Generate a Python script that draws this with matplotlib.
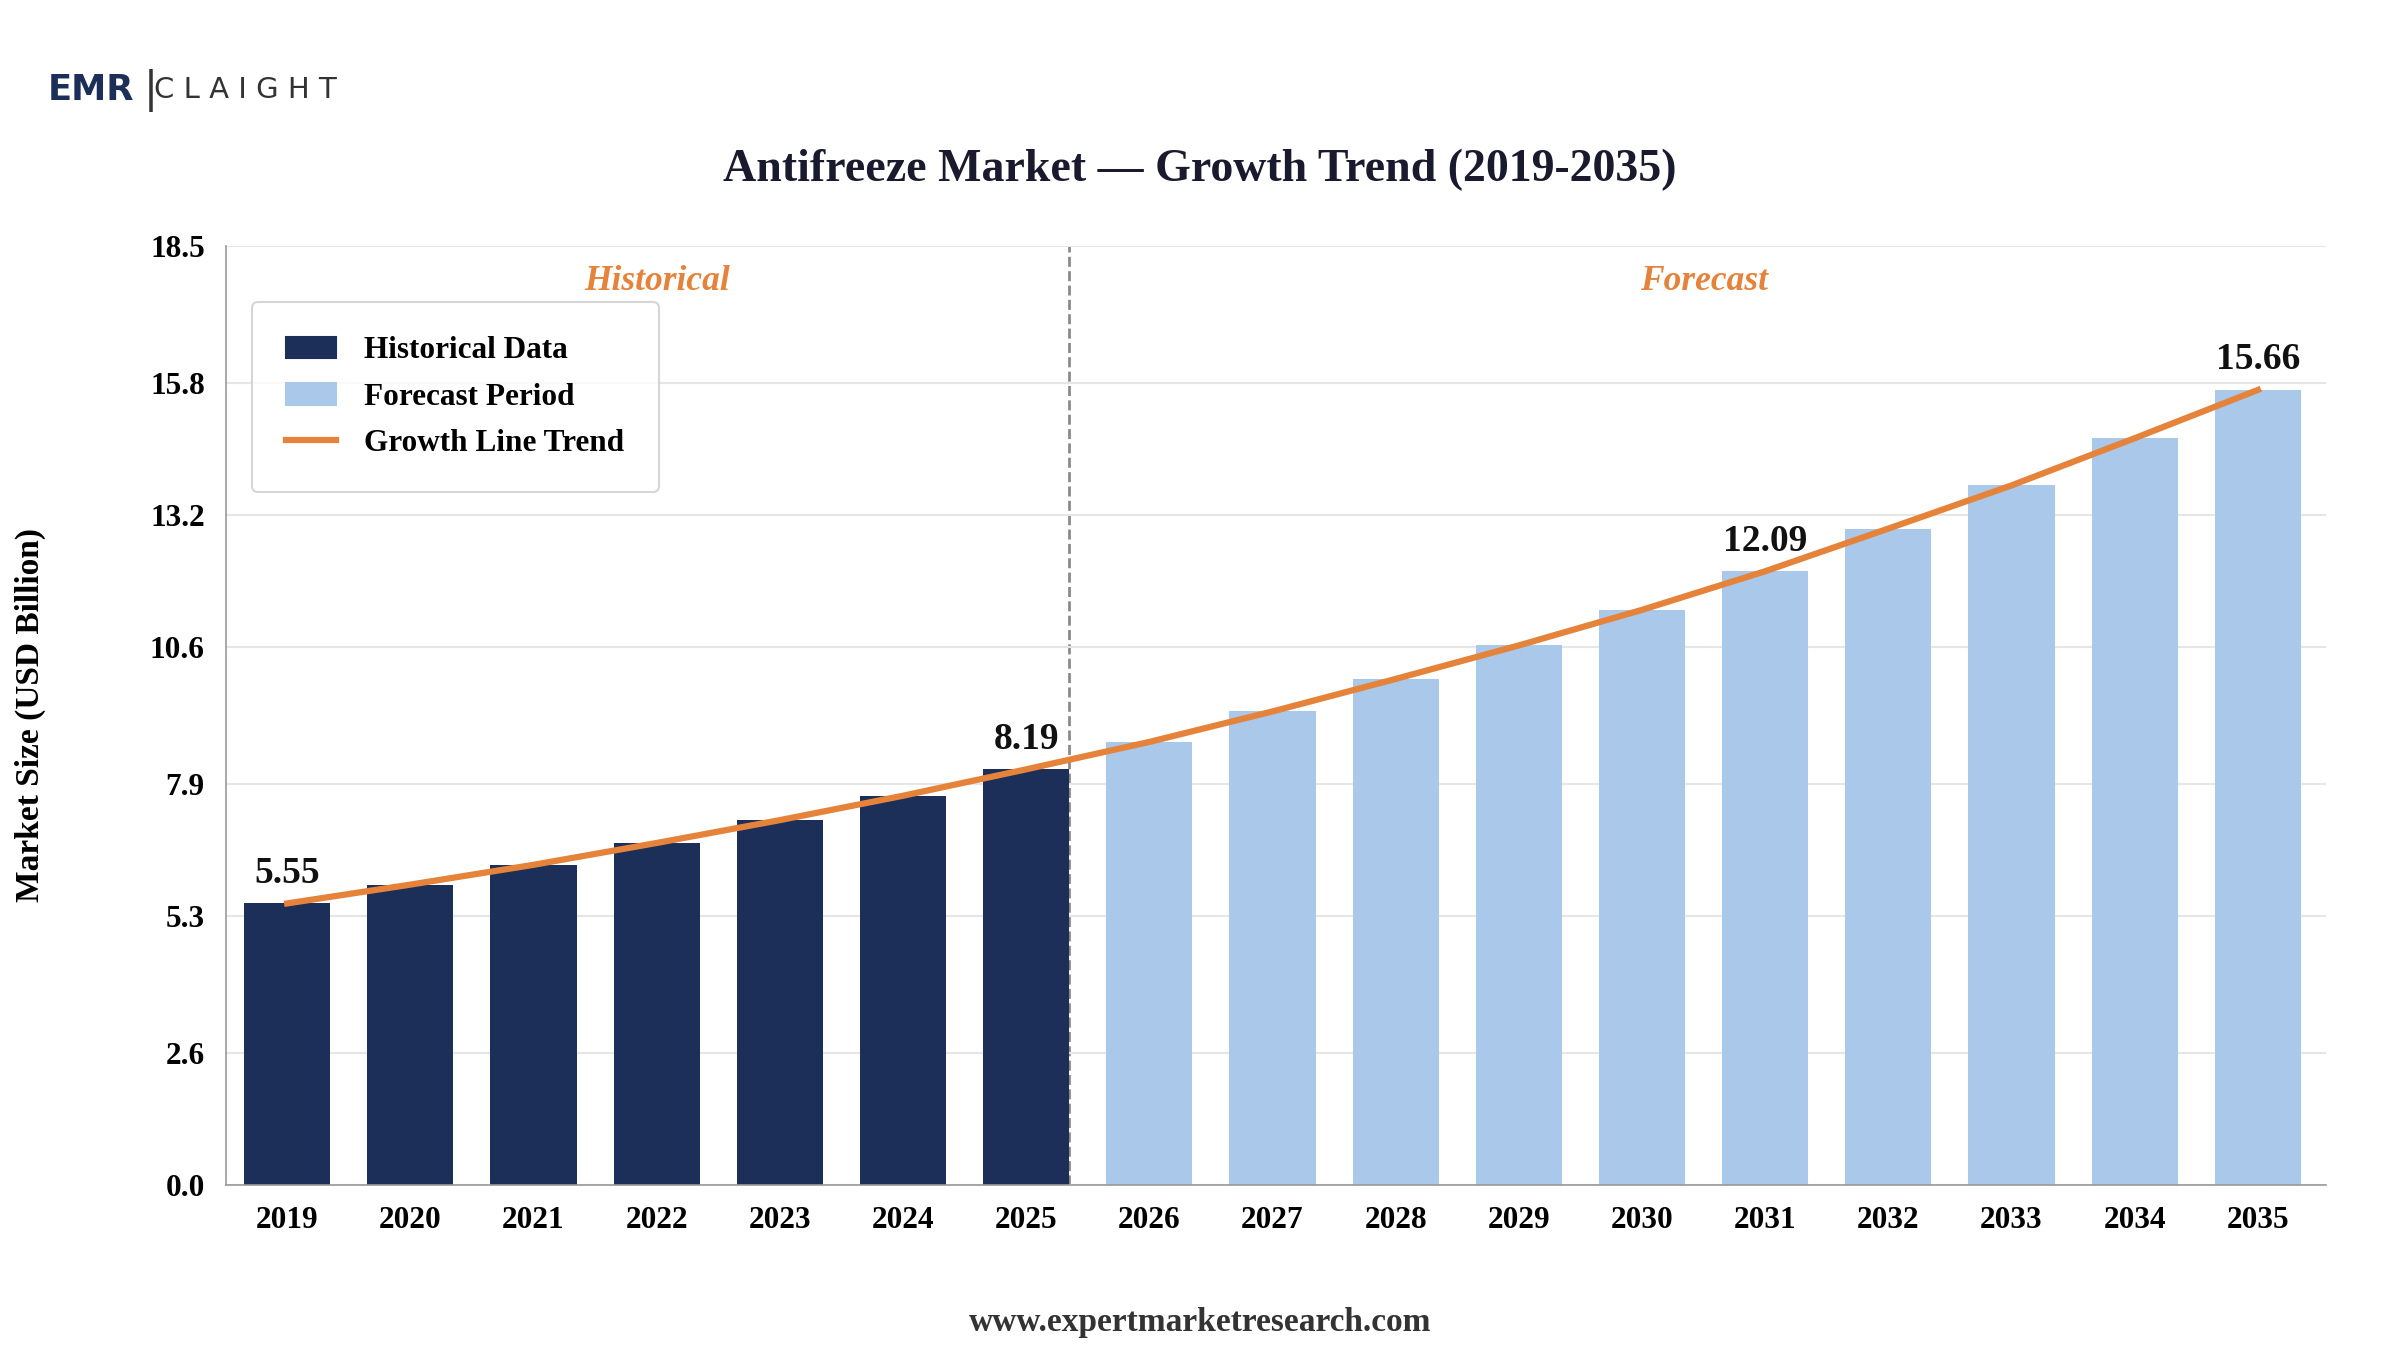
import matplotlib
matplotlib.use("Agg")
import matplotlib.pyplot as plt
from matplotlib.patches import Patch
from matplotlib.lines import Line2D

years = list(range(2019, 2036))
values = [5.55, 5.92, 6.31, 6.74, 7.19, 7.67, 8.19, 8.73, 9.33, 9.97, 10.63,
          11.33, 12.09, 12.93, 13.78, 14.71, 15.66]
n_hist = 7
yticks = [0.0, 2.6, 5.3, 7.9, 10.6, 13.2, 15.8, 18.5]
labelled = {2019: "5.55", 2025: "8.19", 2031: "12.09", 2035: "15.66"}

plt.rcParams['font.family'] = ['Liberation Serif', 'DejaVu Serif']
navy, light, orange = '#1b2f59', '#a9c8ea', '#e5833a'

fig = plt.figure(figsize=(16, 9), dpi=150)
ax = fig.add_axes([0.094, 0.122, 0.875, 0.696])
x = list(range(len(years)))
cols = [navy] * n_hist + [light] * (len(years) - n_hist)
ax.bar(x, values, width=0.7, color=cols, zorder=2)
ax.plot(x, values, color=orange, lw=3, zorder=3)
for i, y in enumerate(years):
    if y in labelled:
        ax.text(i, values[i] + 0.25, labelled[y], ha='center', va='bottom',
                fontsize=18, fontweight='bold', color='#111')
ax.axvline(n_hist - 0.65, color='#888', ls='--', lw=1.3, zorder=1)
ax.text(3, 17.8, 'Historical', ha='center', va='center', fontsize=17,
        style='italic', fontweight='bold', color=orange)
ax.text(11.5, 17.8, 'Forecast', ha='center', va='center', fontsize=17,
        style='italic', fontweight='bold', color=orange)

ax.set_xlim(-0.5, len(years) - 0.45)
ax.set_ylim(0, 18.5)
ax.set_yticks(yticks)
ax.set_yticklabels([f"{t:.1f}" for t in yticks])
ax.set_xticks(x)
ax.set_xticklabels([str(y) for y in years])
ax.tick_params(labelsize=15, length=0, pad=10)
for lab in ax.get_xticklabels() + ax.get_yticklabels():
    lab.set_fontweight('bold')
ax.grid(axis='y', color='#e6e6e6', lw=1, zorder=0)
for s in ['top', 'right']:
    ax.spines[s].set_visible(False)
ax.spines['left'].set_color('#999')
ax.spines['bottom'].set_color('#999')
ax.set_ylabel('Market Size (USD Billion)', fontsize=16, fontweight='bold', labelpad=50)

handles = [Patch(color=navy), Patch(color=light), Line2D([], [], color=orange, lw=3)]
leg = ax.legend(handles, ['Historical Data', 'Forecast Period', 'Growth Line Trend'],
                loc='upper left', bbox_to_anchor=(0.008, 0.95),
                prop={'weight': 'bold', 'size': 15}, borderpad=0.9, labelspacing=0.55,
                handlelength=1.6, handletextpad=0.9, borderaxespad=0.5,
                frameon=True, fancybox=True)
leg.get_frame().set_edgecolor('#ccc')
leg.get_frame().set_boxstyle('round,pad=0.2')

fig.text(0.5, 0.874, 'Antifreeze Market — Growth Trend (2019-2035)', ha='center',
         va='center', fontsize=22, fontweight='bold', color='#1a1a2e')
fig.text(0.5, 0.02, 'www.expertmarketresearch.com', ha='center', va='center',
         fontsize=16, fontweight='bold', color='#333')
fig.text(0.02, 0.933, 'EMR', fontsize=17, fontweight='bold', color='#1b2f59',
         family='DejaVu Sans', va='center')
fig.text(0.06, 0.933, '|', fontsize=20, color='#333', va='center', family='DejaVu Sans')
fig.text(0.064, 0.933, 'C L A I G H T', fontsize=14, color='#333', va='center',
         family='DejaVu Sans')

fig.savefig('out.png', dpi=150)
